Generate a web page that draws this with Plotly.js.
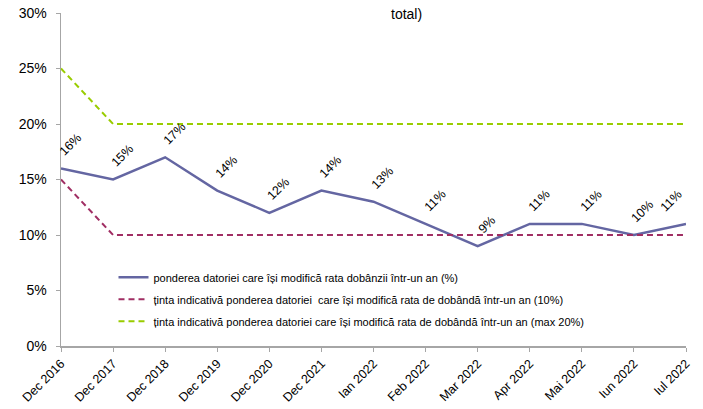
<!DOCTYPE html>
<html>
<head>
<meta charset="utf-8">
<script src="https://cdn.plot.ly/plotly-3.0.1.min.js"></script>
<style>html,body{margin:0;padding:0;background:#fff;}#chart{width:703px;height:409px;}</style>
</head>
<body>
<div id="chart"></div>
<script>
const categories = ["Dec 2016","Dec 2017","Dec 2018","Dec 2019","Dec 2020","Dec 2021","Ian 2022","Feb 2022","Mar 2022","Apr 2022","Mai 2022","Iun 2022","Iul 2022"];
const ponderea = [16,15,17,14,12,14,13,11,9,11,11,10,11];
const tinta10 = [15,10,10,10,10,10,10,10,10,10,10,10,10];
const tinta20 = [25,20,20,20,20,20,20,20,20,20,20,20,20];
const seriesNames = [
  "ponderea datoriei care își modifică rata dobânzii într-un an (%)",
  "ținta indicativă ponderea datoriei  care își modifică rata de dobândă într-un an (10%)",
  "ținta indicativă ponderea datoriei care își modifică rata de dobândă într-un an (max 20%)"
];
const yTicks = [0,5,10,15,20,25,30];
const titleLine1 = "Ponderea datoriei care își modifică rata dobânzii, Dec 2016 - Iul 2022 (% din";
const titleLine2 = "total)";

const xIdx = categories.map((c,i)=>i);
const font = "Liberation Sans, Arial, sans-serif";

const traces = [
  {x: xIdx, y: ponderea, name: seriesNames[0], mode: "lines", legendgroup: "a",
   line: {color: "#6466A2", width: 2.5}},
  {x: xIdx, y: tinta10, name: seriesNames[1], mode: "lines", legendgroup: "b",
   line: {color: "#A02E63", width: 2, dash: "6px,4px"}},
  {x: xIdx, y: tinta20, name: seriesNames[2], mode: "lines", legendgroup: "c",
   line: {color: "#99CC00", width: 2, dash: "6px,4px"}}
];

const last = ponderea.length - 1;
const annotations = ponderea.map((v,i)=>({
  x: i, y: v, xref: "x", yref: "y", text: v + "%", showarrow: false,
  textangle: -45, xanchor: "center", yanchor: "bottom",
  xshift: i === last ? -15 : 9, yshift: 7,
  font: {family: font, size: 12.5, color: "#000"}
}));
annotations.push({
  xref: "paper", yref: "paper", x: 0.553, y: 1.0, xanchor: "center", yanchor: "bottom",
  yshift: -11, text: titleLine2, showarrow: false,
  font: {family: font, size: 14, color: "#000"}
});
annotations.push({
  xref: "paper", yref: "paper", x: 0.553, y: 1.0, xanchor: "center", yanchor: "bottom",
  yshift: 12, text: titleLine1, showarrow: false,
  font: {family: font, size: 14, color: "#000"}
});

const layout = {
  width: 703, height: 409,
  margin: {l: 61, r: 17, t: 13, b: 63},
  paper_bgcolor: "#fff", plot_bgcolor: "#fff",
  showlegend: true,
  legend: {x: 0.084, y: 0.25, xanchor: "left", yanchor: "top", bgcolor: "rgba(0,0,0,0)",
    font: {family: font, size: 11, color: "#000"}, traceorder: "grouped", tracegroupgap: 3},
  xaxis: {type: "linear", range: [0, 12], tickmode: "array", tickvals: xIdx, ticktext: categories,
    tickangle: -45, showgrid: false, zeroline: false, showline: true, linecolor: "#A6A6A6", linewidth: 1.5,
    ticks: "outside", ticklen: 4, tickcolor: "#A6A6A6",
    tickfont: {family: font, size: 12.5, color: "#000"}, fixedrange: true},
  yaxis: {range: [0, 30], tickmode: "array", tickvals: yTicks, ticktext: yTicks.map(t=>t+"%"),
    showgrid: false, zeroline: false, showline: true, linecolor: "#A6A6A6", linewidth: 1.5,
    ticks: "outside", ticklen: 4, tickcolor: "#A6A6A6", ticklabelstandoff: 6,
    tickfont: {family: font, size: 14, color: "#000"}, fixedrange: true},
  annotations: annotations
};

Plotly.newPlot("chart", traces, layout, {displayModeBar: false, staticPlot: true});
</script>
</body>
</html>
